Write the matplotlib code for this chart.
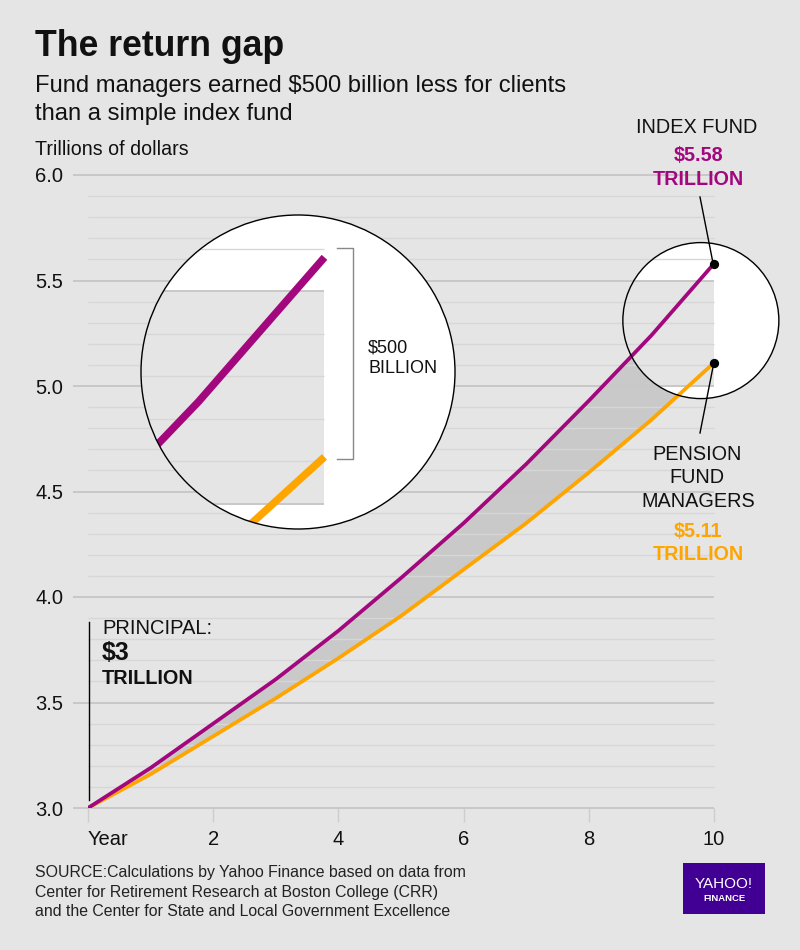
import numpy as np
import matplotlib
matplotlib.use('Agg')
import matplotlib.pyplot as plt
from matplotlib.patches import Ellipse, Circle, Rectangle
from matplotlib.lines import Line2D

# data (trillions of dollars)
years = [0, 1, 2, 3, 4, 5, 6, 7, 8, 9, 10]
index_fund = [3.00, 3.19, 3.40, 3.61, 3.84, 4.09, 4.35, 4.63, 4.93, 5.24, 5.58]
pension = [3.00, 3.16, 3.34, 3.52, 3.71, 3.91, 4.13, 4.35, 4.59, 4.84, 5.11]
xtick_vals = [0, 2, 4, 6, 8, 10]
xtick_labels = ['Year', '2', '4', '6', '8', '10']
ytick_vals = [3.0, 3.5, 4.0, 4.5, 5.0, 5.5, 6.0]

BG = '#e5e5e5'
PURPLE = '#a3077e'
ORANGE = '#ffa500'
SHADE = '#c9c9c9'
MAJOR = '#c8c8c8'
MINOR = '#d7d7d7'

plt.rcParams['font.family'] = ['Liberation Sans', 'DejaVu Sans']

W, H = 800, 950
fig = plt.figure(figsize=(8, 9.5), dpi=100, facecolor=BG)


def fx(x):
    return x / W


def fy(y):
    return 1 - y / H


def ftext(x, y, s, **kw):
    # y is the baseline in pixels from the top
    kw.setdefault('va', 'baseline')
    kw.setdefault('color', '#111111')
    fig.text(fx(x), fy(y), s, **kw)


# main axes: year 0 at x=88px, year 10 at x=714px, 3.0 at y=808px, 6.0 at y=175px
ax = fig.add_axes([fx(88), fy(808), (714 - 88) / W, (808 - 175) / H])
ax.set_facecolor(BG)
ax.set_xlim(0, 10)
ax.set_ylim(3, 6)
for s in ax.spines.values():
    s.set_visible(False)

grid_y = np.round(np.arange(3.0, 6.01, 0.1), 1)
major_y = [g for g in grid_y if abs(g * 2 - round(g * 2)) < 1e-6]
minor_y = [g for g in grid_y if g not in major_y]
ax.hlines(minor_y, 0, 10, color=MINOR, lw=1, zorder=3, clip_on=False)
ax.hlines(major_y, -0.24, 10, color=MAJOR, lw=1.4, zorder=3, clip_on=False)

ax.set_yticks(ytick_vals)
ax.set_yticklabels(['%.1f' % v for v in ytick_vals])
ax.tick_params(axis='y', length=0, pad=18, labelsize=14.5, labelcolor='#111111')
ax.set_xticks(xtick_vals)
ax.set_xticklabels(xtick_labels)
ax.tick_params(axis='x', length=10, width=1, color='#cdcdcd', pad=6,
               labelsize=14.5, labelcolor='#111111')
ax.get_xticklabels()[0].set_horizontalalignment('left')

# shaded gap between the two lines
ax.fill_between(years, pension, index_fund, color=SHADE, lw=0, zorder=1)

# small circle around the end points
cx, cy = 9.79, 5.31
rx, ry = 78 / 62.6, 78 / 211
small = Ellipse((cx, cy), 2 * rx, 2 * ry, fc='white', ec='none', zorder=2, clip_on=False)
ax.add_patch(small)
band = Rectangle((cx - rx, 5.0), 10 - (cx - rx), 0.5, fc=BG, ec='none', zorder=2.2)
ax.add_patch(band)
band.set_clip_path(small)
ax.add_patch(Ellipse((cx, cy), 2 * rx, 2 * ry, fill=False, ec='black', lw=1,
                     zorder=5, clip_on=False))

ax.plot(years, pension, color=ORANGE, lw=2.7, zorder=4, solid_capstyle='butt')
ax.plot(years, index_fund, color=PURPLE, lw=2.7, zorder=4.5, solid_capstyle='butt')
ax.scatter([years[-1], years[-1]], [index_fund[-1], pension[-1]], s=32,
           color='black', zorder=6, clip_on=False)

# magnified inset (2x of the small circle)
axin = fig.add_axes([fx(141), fy(529), 314 / W, 314 / H])
axin.set_xlim(cx - rx, cx + rx)
axin.set_ylim(cy - ry, cy + ry)
axin.axis('off')
disc = Circle((0.5, 0.5), 0.5, transform=axin.transAxes, fc='white', ec='none', zorder=0)
axin.add_patch(disc)
inband = Rectangle((cx - rx, 5.0), 10 - (cx - rx), 0.5, fc=BG, ec='none', zorder=1)
axin.add_patch(inband)
inband.set_clip_path(disc)
hl1 = axin.hlines(minor_y, cx - rx, 10, color=MINOR, lw=1, zorder=2)
hl2 = axin.hlines(major_y, cx - rx, 10, color=MAJOR, lw=1.4, zorder=2)
hl1.set_clip_path(disc)
hl2.set_clip_path(disc)
l1, = axin.plot(years, pension, color=ORANGE, lw=5.4, zorder=3, solid_capstyle='butt')
l2, = axin.plot(years, index_fund, color=PURPLE, lw=5.4, zorder=3, solid_capstyle='butt')
l1.set_clip_path(disc)
l2.set_clip_path(disc)
axin.add_patch(Circle((0.5, 0.5), 0.5, transform=axin.transAxes, fill=False,
                      ec='black', lw=1, zorder=5, clip_on=False))

# bracket for the gap
fig.add_artist(Line2D([fx(337), fx(353), fx(353), fx(337)],
                      [fy(248), fy(248), fy(459), fy(459)],
                      transform=fig.transFigure, color='#888888', lw=1))
ftext(368, 352, '$500', fontsize=13, ha='left')
ftext(368, 373, 'BILLION', fontsize=13, ha='left')

# pointer lines
fig.add_artist(Line2D([fx(700), fx(713)], [fy(197), fy(263)],
                      transform=fig.transFigure, color='black', lw=1))
fig.add_artist(Line2D([fx(713), fx(700)], [fy(367), fy(433)],
                      transform=fig.transFigure, color='black', lw=1))

# end labels
ftext(697, 133, 'INDEX FUND', fontsize=14.3, ha='center')
ftext(698, 161, '$5.58', fontsize=14.2, ha='center', weight='bold', color=PURPLE)
ftext(698, 185, 'TRILLION', fontsize=14.2, ha='center', weight='bold', color=PURPLE)
ftext(697, 460, 'PENSION', fontsize=14.3, ha='center')
ftext(697, 483, 'FUND', fontsize=14.3, ha='center')
ftext(698, 507, 'MANAGERS', fontsize=14.3, ha='center')
ftext(698, 537, '$5.11', fontsize=14.2, ha='center', weight='bold', color=ORANGE)
ftext(698, 560, 'TRILLION', fontsize=14.2, ha='center', weight='bold', color=ORANGE)

# principal marker
fig.add_artist(Line2D([fx(89), fx(89)], [fy(622), fy(800)],
                      transform=fig.transFigure, color='black', lw=1))
ftext(102, 634, 'PRINCIPAL:', fontsize=14.5, ha='left')
ftext(102, 660, '$3', fontsize=18, ha='left', weight='bold')
ftext(102, 684, 'TRILLION', fontsize=14.3, ha='left', weight='bold')

# titles
ftext(35, 56, 'The return gap', fontsize=25.7, weight='bold', ha='left')
ftext(35, 92, 'Fund managers earned $500 billion less for clients', fontsize=17.1, ha='left')
ftext(35, 120, 'than a simple index fund', fontsize=17.1, ha='left')
ftext(35, 155, 'Trillions of dollars', fontsize=14.1, ha='left')

# source
ftext(35, 877, 'SOURCE:Calculations by Yahoo Finance based on data from',
      fontsize=11.45, ha='left', color='#222222')
ftext(35, 897, 'Center for Retirement Research at Boston College (CRR)',
      fontsize=11.45, ha='left', color='#222222')
ftext(35, 916, 'and the Center for State and Local Government Excellence',
      fontsize=11.45, ha='left', color='#222222')

# logo
fig.add_artist(Rectangle((fx(683), fy(914)), 82 / W, 51 / H, transform=fig.transFigure,
                         fc='#410093', ec='none'))
ftext(724, 888, 'YAHOO!', fontsize=11, ha='center', color='white')
ftext(724, 901, 'FINANCE', fontsize=6.8, ha='center', color='white', weight='bold')

fig.savefig('out.png', dpi=100, facecolor=BG)
